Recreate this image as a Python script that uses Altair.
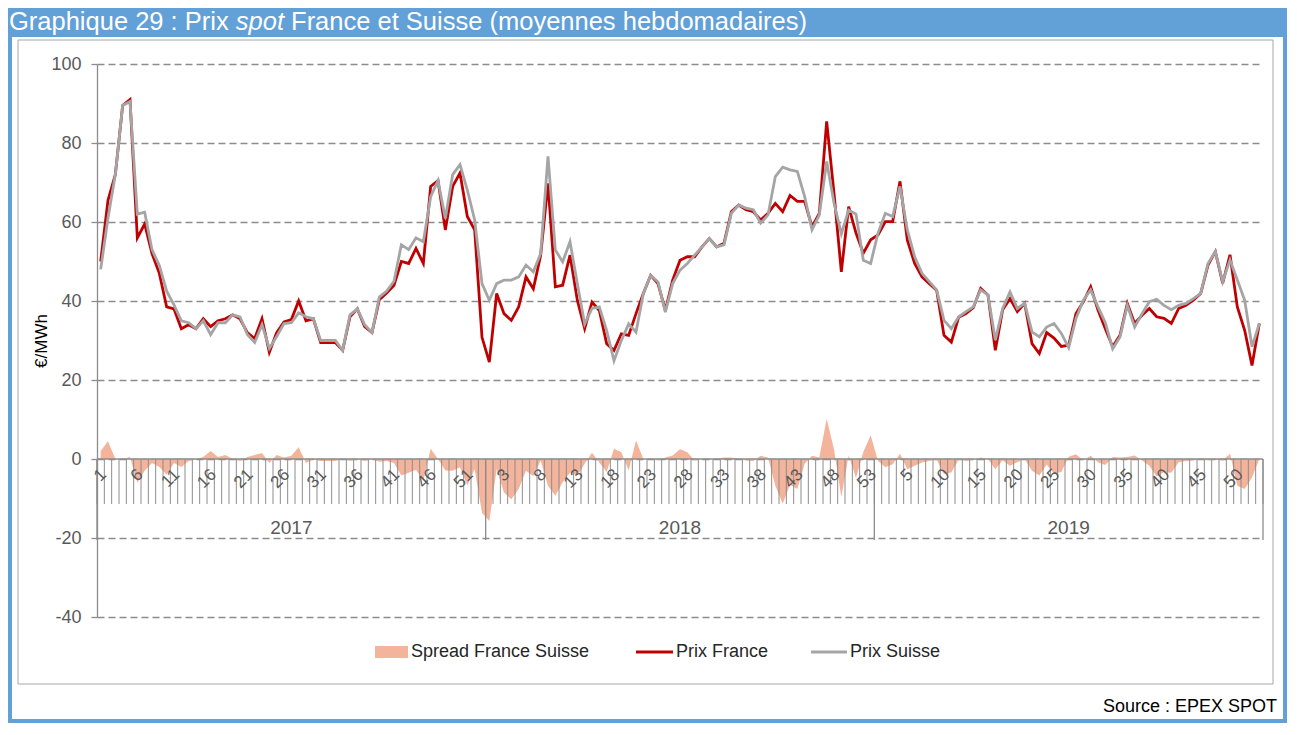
import altair as alt
import pandas as pd

# ---------------- data (weekly averages, EUR/MWh) ----------------
YEARS = ["2017", "2018", "2019"]
WEEKS_PER_YEAR = 53
LABEL_STEP = 5

france_2017 = [50, 65.5, 72, 89.5, 91, 56, 59.5, 52, 47, 38.5,
               38, 33, 34, 33, 35.5, 33.5, 35, 35.5, 36.5, 35.5,
               32, 30.5, 35.5, 27, 32, 34.7, 35.3, 40, 35, 35.5,
               29.5, 29.5, 29.5, 27.5, 36, 38, 33.5, 32, 40.3, 42,
               44, 50, 49.5, 53.3, 49.5, 69, 70.5, 58, 69, 72.4,
               61.4, 58, 30.8]
suisse_2017 = [48, 61, 72, 89.5, 90.5, 62, 62.5, 53, 49, 42.5,
               39, 35, 34.5, 33, 35, 31.5, 34.5, 34.5, 36.5, 36,
               31.5, 29.5, 34, 28, 31, 34.3, 34.5, 37, 36, 35.5,
               30, 30, 30, 27.5, 36.5, 38, 34, 32, 41, 42.5,
               45, 54.2, 53, 56, 55, 66.4, 70.5, 60.9, 72, 74.5,
               68.1, 60.5, 44.4]
france_2018 = [24.5, 41.9, 36.8, 35.1, 38.5, 46.1, 43.1, 51.6, 69.8, 43.6,
               44, 51.6, 40.2, 33, 39.7, 37.6, 29.2, 27.5, 31.7, 31.3,
               36.8, 41.9, 46.5, 44.4, 37.6, 45.3, 50.3, 51.2, 51.2, 53.7,
               55.8, 53.7, 54.6, 62.6, 64.3, 63.1, 62.6, 60.5, 62.2, 64.7,
               62.6, 66.7, 65.2, 65.2, 58.8, 62.2, 85.5, 67.3, 47.4, 63.9,
               57.2, 52.1, 55.5]
suisse_2018 = [40.2, 44.4, 45.3, 45.3, 46.1, 49.1, 47.4, 52, 76.6, 52.9,
               49.9, 55, 44.4, 34.2, 38.1, 38.5, 32.5, 24.9, 30, 34.2,
               32.1, 41.9, 46.5, 44.8, 37.2, 44.4, 47.8, 49.5, 51.6, 53.7,
               55.8, 53.7, 54.2, 62.2, 64.3, 63.5, 63.1, 59.7, 61.8, 71.5,
               73.9, 73.2, 72.8, 66.4, 58, 61.8, 75.3, 64.8, 57, 63,
               62, 50.3, 49.5]
france_2019 = [56.7, 60.1, 60.1, 70.3, 55.4, 49.5, 46.1, 44.4, 42.7, 31.3,
               29.6, 35.9, 36.8, 38.3, 43.2, 41.5, 27.5, 37.8, 40.6, 37.3,
               39.4, 29.2, 26.7, 32, 30.6, 28.5, 28.8, 36.8, 39.8, 43.6,
               37.7, 33, 28.4, 31.3, 39.4, 34.3, 36.4, 38.1, 36, 35.6,
               34.3, 38.1, 38.9, 40.2, 41.9, 49.1, 52.5, 44.5, 51.7, 38.5,
               32.6, 23.7, 34.3]
suisse_2019 = [57.2, 62.2, 61.4, 69, 58, 51.2, 47, 44.9, 42.8, 35.1,
               33, 36, 37.3, 38.5, 42.8, 41.5, 30.1, 38.1, 42.3, 38.1,
               39.4, 32.2, 30.9, 33.4, 34.3, 31.8, 28.2, 35.6, 40.2, 42.8,
               38.5, 34.5, 27.9, 30.9, 38.9, 33.4, 36.8, 39.8, 40.4, 38.9,
               37.8, 38.9, 39.4, 40.6, 41.9, 49.5, 52.5, 44.9, 50.4, 45.3,
               40.2, 28.4, 34.3]

Y_TICKS = [-40, -20, 0, 20, 40, 60, 80, 100]
TITLE_PARTS = [("Graphique 29 : Prix ", "normal"), ("spot", "italic"),
               (" France et Suisse (moyennes hebdomadaires)", "normal")]
LEGEND_ITEMS = ["Spread France Suisse", "Prix France", "Prix Suisse"]
SOURCE = "Source : EPEX SPOT"
Y_TITLE = "€/MWh"

# ---------------- styles ----------------
FONT = "Liberation Sans"
RED = "#C00000"
GREY = "#A5A5A5"
SPREAD = "#F4B39B"
AXIS_GREY = "#8C8C8C"
LABEL = "#595959"
BLUE = "#62A0D8"
TITLE_SIZE = 25.5

W, H = 1166, 553
PAD = {"left": 89, "top": 56, "right": 24, "bottom": 106}

ARIAL = {' ': 278, 'G': 778, 'r': 333, 'a': 556, 'p': 556, 'h': 556, 'i': 222,
         'q': 556, 'u': 556, 'e': 556, ':': 278, 'P': 667, 'x': 500, 's': 500,
         'o': 556, 't': 278, 'F': 611, 'n': 556, 'c': 500, 'S': 667, '(': 333,
         'm': 833, 'y': 500, 'b': 556, 'd': 556, ')': 333, 'l': 222}


def text_width(s, size):
    return sum(ARIAL.get(ch, 556) for ch in s) * size / 1000.0


# ---------------- tables ----------------
france = france_2017 + france_2018 + france_2019
suisse = suisse_2017 + suisse_2018 + suisse_2019
n = len(france)
df = pd.DataFrame({"idx": list(range(n)), "france": france, "suisse": suisse})
df["x"] = df["idx"] + 0.5
df["spread"] = df["france"] - df["suisse"]
df["semaine"] = (df["idx"] % WEEKS_PER_YEAR + 1).astype(str)

bounds = pd.DataFrame({"k": list(range(n + 1))})
year_bounds = pd.DataFrame({"k": [i * WEEKS_PER_YEAR for i in range(len(YEARS) + 1)]})
year_mid = pd.DataFrame({"annee": YEARS,
                         "x": [i * WEEKS_PER_YEAR + WEEKS_PER_YEAR / 2 for i in range(len(YEARS))]})
week_labels = df[df["idx"] % LABEL_STEP == 0]
one = alt.Data(values=[{"a": 1}])

XS = alt.Scale(domain=[0, n], nice=False, zero=False)
YS = alt.Scale(domain=[Y_TICKS[0], Y_TICKS[-1]], nice=False, zero=False)

Y_AXIS = alt.Axis(values=Y_TICKS, labelExpr="toString(datum.value)", labelFontSize=18,
                  labelColor=LABEL, labelPadding=10, tickSize=6, tickColor=AXIS_GREY,
                  domainColor=AXIS_GREY, domainWidth=1.3, tickWidth=1.3,
                  grid=True, gridColor=AXIS_GREY, gridDash=[7, 4], gridWidth=1.3,
                  title=Y_TITLE, titleFontSize=17, titleFontWeight="normal",
                  titleColor="#000000", titlePadding=0)


def yq(field):
    return alt.Y(field, scale=YS, axis=Y_AXIS, title=Y_TITLE)


def y0():
    return alt.YDatum(0, scale=YS, axis=Y_AXIS, title=Y_TITLE)


def xq(field):
    return alt.X(field, scale=XS, axis=None)


layers = []

# outer frame & title bar
layers.append(alt.Chart(one).mark_rect(fillOpacity=0, stroke=BLUE, strokeWidth=4).encode(
    x=alt.value(-PAD["left"] + 2), x2=alt.value(W + PAD["right"] - 2),
    y=alt.value(-PAD["top"] + 2), y2=alt.value(H + PAD["bottom"] - 2)))
layers.append(alt.Chart(one).mark_rect(color=BLUE).encode(
    x=alt.value(-PAD["left"]), x2=alt.value(W + PAD["right"]),
    y=alt.value(-PAD["top"]), y2=alt.value(-27)))
# inner grey box
layers.append(alt.Chart(one).mark_rect(fillOpacity=0, stroke="#A6A6A6", strokeWidth=1).encode(
    x=alt.value(-79), x2=alt.value(W + 10), y=alt.value(-24), y2=alt.value(H + 67)))

# title pieces
tx = -PAD["left"] + 1
for txt, style in TITLE_PARTS:
    lead = len(txt) - len(txt.lstrip(" "))
    tx += text_width(" " * lead, TITLE_SIZE)
    body = txt.strip(" ")
    layers.append(alt.Chart(one).mark_text(
        text=body, font=FONT, fontSize=TITLE_SIZE, fontStyle=style, color="white",
        align="left", baseline="alphabetic").encode(x=alt.value(tx), y=alt.value(-34)))
    tx += text_width(body, TITLE_SIZE) + text_width(" " * (len(txt) - len(txt.rstrip(" "))), TITLE_SIZE)

# spread area
layers.append(alt.Chart(df).mark_area(color=SPREAD, interpolate="linear").encode(
    x=xq("x:Q"), y=yq("spread:Q"), y2=alt.datum(0)))

# category axis at zero: week ticks, year separators, axis line
layers.append(alt.Chart(bounds).mark_rule(color=AXIS_GREY, strokeWidth=1).encode(
    x=xq("k:Q"), y=y0(), y2=alt.value(440)))
layers.append(alt.Chart(year_bounds).mark_rule(color=AXIS_GREY, strokeWidth=1.3).encode(
    x=xq("k:Q"), y=y0(), y2=alt.value(476)))
layers.append(alt.Chart(one).mark_rule(color=AXIS_GREY, strokeWidth=1.3).encode(
    x=alt.XDatum(0, scale=XS, axis=None), x2=alt.datum(n), y=y0()))

# week labels & year labels
layers.append(alt.Chart(week_labels).mark_text(
    angle=315, align="right", baseline="middle", fontSize=17, color=LABEL, font=FONT,
    xOffset=3, yOffset=13).encode(x=xq("x:Q"), y=y0(), text="semaine:N"))
layers.append(alt.Chart(year_mid).mark_text(
    baseline="middle", fontSize=19, color=LABEL, font=FONT, yOffset=69).encode(
    x=xq("x:Q"), y=y0(), text="annee:N"))

# price lines (France first, Suisse drawn on top)
layers.append(alt.Chart(df).mark_line(color=RED, strokeWidth=2.8).encode(
    x=xq("x:Q"), y=yq("france:Q")))
layers.append(alt.Chart(df).mark_line(color=GREY, strokeWidth=2.8).encode(
    x=xq("x:Q"), y=yq("suisse:Q")))

# legend
LEG_Y = 588
layers.append(alt.Chart(one).mark_rect(color=SPREAD).encode(
    x=alt.value(278), x2=alt.value(311), y=alt.value(LEG_Y - 6), y2=alt.value(LEG_Y + 6)))
layers.append(alt.Chart(one).mark_rule(color=RED, strokeWidth=3).encode(
    x=alt.value(539), x2=alt.value(576), y=alt.value(LEG_Y)))
layers.append(alt.Chart(one).mark_rule(color=GREY, strokeWidth=3).encode(
    x=alt.value(714), x2=alt.value(750), y=alt.value(LEG_Y)))
for txt, lx in zip(LEGEND_ITEMS, [314, 579, 753]):
    layers.append(alt.Chart(one).mark_text(
        text=txt, font=FONT, fontSize=18, color="#262626", align="left",
        baseline="middle").encode(x=alt.value(lx), y=alt.value(LEG_Y)))

# source
layers.append(alt.Chart(one).mark_text(
    text=SOURCE, font=FONT, fontSize=18, color="#000000", align="right",
    baseline="alphabetic").encode(x=alt.value(W + PAD["right"] - 10), y=alt.value(H + 95)))

chart = alt.layer(*layers).properties(
    width=W, height=H,
    autosize=alt.AutoSizeParams(type="none"),
    padding=PAD,
).configure(font=FONT).configure_view(stroke=None)

chart.save("out.html", embed_options={"renderer": "svg", "actions": False})
